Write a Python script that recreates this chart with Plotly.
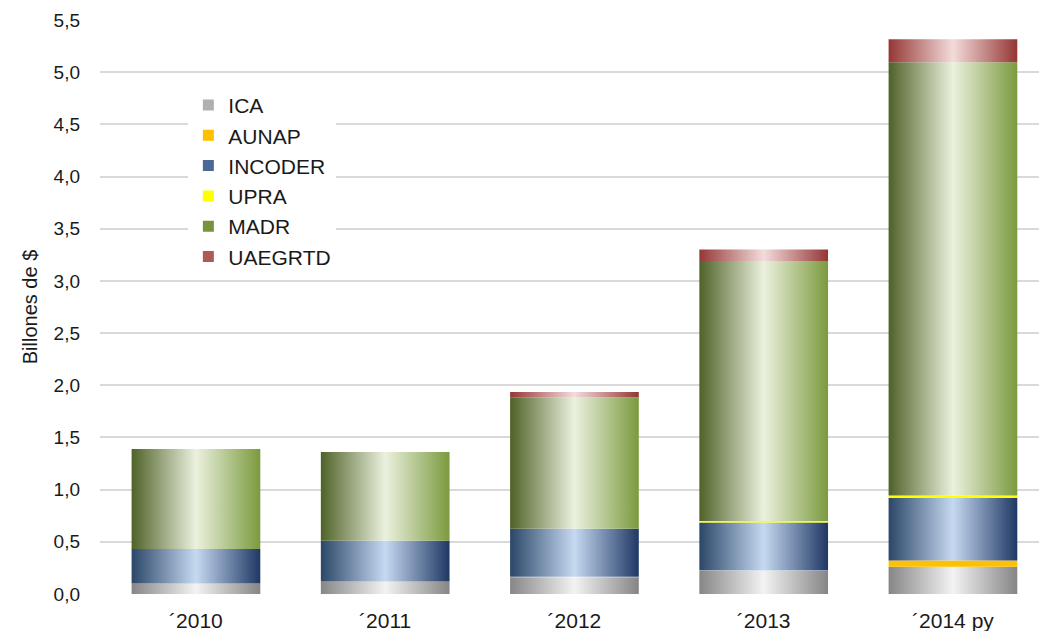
import plotly.graph_objects as go
import numpy as np

years = ["´2010", "´2011", "´2012", "´2013", "´2014 py"]
series_names = ["ICA", "AUNAP", "INCODER", "UPRA", "MADR", "UAEGRTD"]
ica = [0.10, 0.12, 0.16, 0.22, 0.26]
aunap = [0.0, 0.0, 0.005, 0.005, 0.06]
incoder = [0.33, 0.39, 0.46, 0.46, 0.60]
upra = [0.0, 0.0, 0.0, 0.015, 0.025]
madr = [0.96, 0.85, 1.26, 2.49, 4.15]
uaegrtd = [0.0, 0.0, 0.05, 0.11, 0.22]
y_ticks = [0, 0.5, 1, 1.5, 2, 2.5, 3, 3.5, 4, 4.5, 5, 5.5]
y_tick_text = ["0,0", "0,5", "1,0", "1,5", "2,0", "2,5", "3,0", "3,5", "4,0", "4,5", "5,0", "5,5"]

values = [ica, aunap, incoder, upra, madr, uaegrtd]
scales = [
    [[0, "#868686"], [0.5, "#f3f3f3"], [1, "#858585"]],
    [[0, "#ffc000"], [1, "#ffc000"]],
    [[0, "#2b4668"], [0.5, "#c6d9f1"], [1, "#1f3864"]],
    [[0, "#ffff00"], [1, "#ffff00"]],
    [[0, "#4f6228"], [0.5, "#ebf1de"], [1, "#7b9a3e"]],
    [[0, "#953735"], [0.5, "#f2dcdb"], [1, "#943634"]],
]
legend_colors = ["#b0b0b0", "#ffc000", "#4a6a95", "#ffff00", "#77933c", "#b05a58"]

bar_w = 0.68
fig = go.Figure()
base = np.zeros(len(years))
for name, vals, cs in zip(series_names, values, scales):
    vals = np.array(vals)
    for i in range(len(years)):
        if vals[i] <= 0:
            continue
        x0, x1 = i - bar_w / 2, i + bar_w / 2
        y0, y1 = base[i], base[i] + vals[i]
        fig.add_trace(go.Scatter(
            x=[x0, x1, x1, x0, x0], y=[y0, y0, y1, y1, y0],
            mode="lines", line=dict(width=0), fill="toself",
            fillgradient=dict(type="horizontal", colorscale=cs),
            showlegend=False, hoverinfo="skip"))
    base = base + vals

for name, col in zip(series_names, legend_colors):
    fig.add_trace(go.Scatter(x=[None], y=[None], mode="markers", name=name,
                             marker=dict(symbol="square", size=11, color=col)))

fig.update_layout(
    width=1039, height=623,
    paper_bgcolor="white", plot_bgcolor="white",
    margin=dict(l=92, r=7, t=12, b=37, autoexpand=False),
    font=dict(family="Liberation Sans, Arial, sans-serif", size=19, color="#1a1a1a"),
    showlegend=True,
    legend=dict(x=0.094, y=0.887, xanchor="left", yanchor="top", bgcolor="white",
                font=dict(size=21, color="#1a1a1a"), itemwidth=30, tracegroupgap=0),
    xaxis=dict(range=[-0.507, 4.46], tickvals=list(range(len(years))), ticktext=years,
               showgrid=False, zeroline=False, showline=False, ticks="",
               tickfont=dict(size=21), ticklabelstandoff=12),
    yaxis=dict(range=[0, 5.5], tickvals=y_ticks, ticktext=y_tick_text,
               showgrid=True, gridcolor="#d9d9d9", gridwidth=1.5,
               zeroline=False, showline=False, ticks="", ticklabelstandoff=19,
               title=dict(text="Billones de $", font=dict(size=20), standoff=10)),
)
fig.write_html("out.html")
